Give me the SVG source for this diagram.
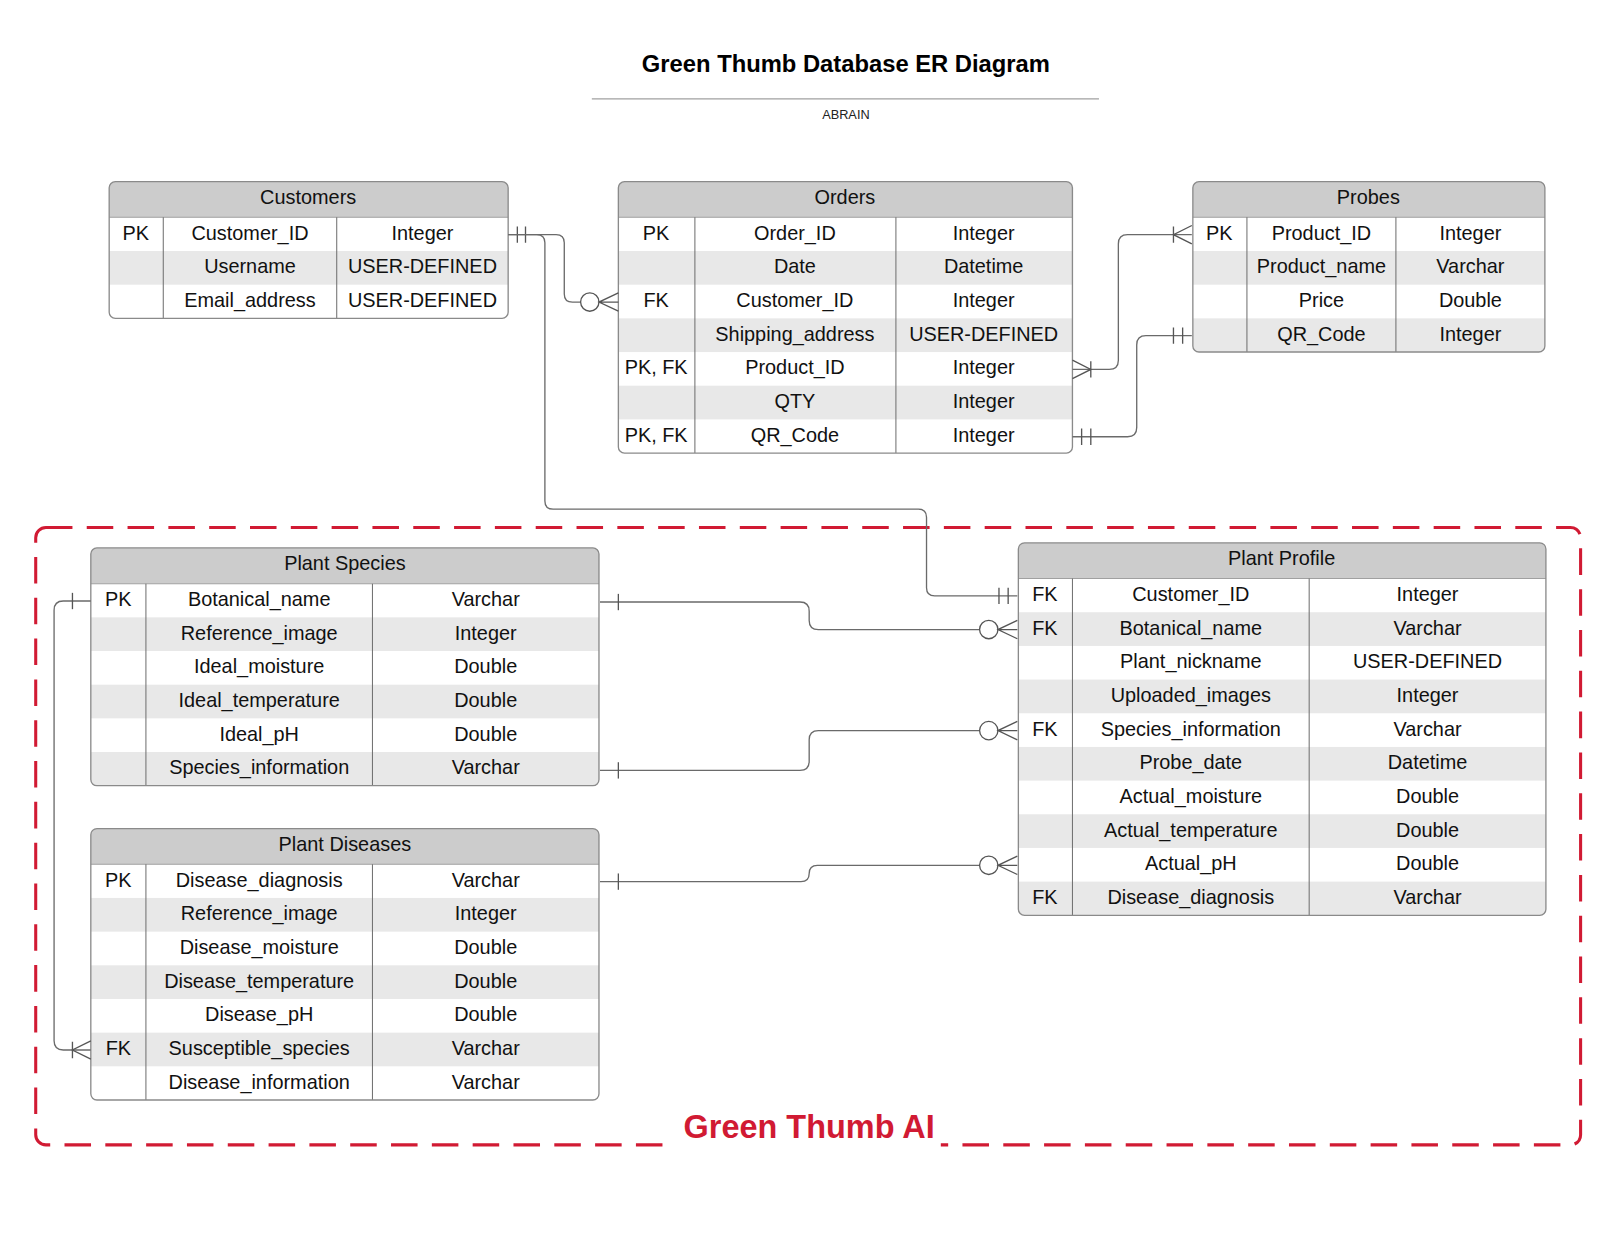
<svg xmlns="http://www.w3.org/2000/svg" width="1600" height="1237" viewBox="0 0 1600 1237">
<style>
.t{font-family:"Liberation Sans",Arial,sans-serif;font-size:19.5px;fill:#111;text-anchor:middle}
.title{font-family:"Liberation Sans",Arial,sans-serif;font-size:23.3px;font-weight:bold;fill:#000;text-anchor:middle}
.sub{font-family:"Liberation Sans",Arial,sans-serif;font-size:12.5px;fill:#222;text-anchor:middle}
.ai{font-family:"Liberation Sans",Arial,sans-serif;font-size:31.8px;font-weight:bold;fill:#d11a33;text-anchor:middle}
.hd{fill:#cccccc}
.gr{fill:#e8e8e8}
.box{fill:none;stroke:#8a8a8a;stroke-width:1.3}
.bg{fill:#fff}
.col{stroke:#6e6e6e;stroke-width:1}
.hl{stroke:#a0a0a0;stroke-width:1}
.cn{fill:none;stroke:#6a6a6a;stroke-width:1.3}
.mk{fill:none;stroke:#555;stroke-width:1.3}
.ci{fill:#fff;stroke:#555;stroke-width:1.3}
.dash{fill:none;stroke:#d11a33;stroke-width:3;stroke-dasharray:26 14}
</style>
<defs>
<clipPath id="cCust"><rect x="107" y="178" width="391" height="134" rx="6"/></clipPath>
<clipPath id="cOrd"><rect x="606" y="178" width="445" height="266" rx="6"/></clipPath>
<clipPath id="cProb"><rect x="1169" y="178" width="345" height="167" rx="6"/></clipPath>
<clipPath id="cSpec"><rect x="89" y="537" width="498" height="233" rx="6"/></clipPath>
<clipPath id="cDis"><rect x="89" y="812" width="498" height="266" rx="6"/></clipPath>
<clipPath id="cProf"><rect x="998" y="532" width="517" height="365" rx="6"/></clipPath>
</defs>
<rect width="1600" height="1237" fill="#fff"/>
<g transform="scale(1.0204)">
<g id="title">
<text class="title" x="829" y="71">Green Thumb Database ER Diagram</text>
<line x1="580" y1="97" x2="1077" y2="97" stroke="#a0a0a0" stroke-width="1.2"/>
<text class="sub" x="829" y="117">ABRAIN</text>
</g>

<g id="group-green-thumb-ai">
<rect class="dash" x="35" y="517" width="1514" height="605" rx="10"/>
<rect x="662" y="1108" width="260" height="24" fill="#fff"/>
<text class="ai" x="793" y="1115">Green Thumb AI</text>
</g>

<g id="customers">
<rect class="bg" x="107" y="178" width="391" height="134" rx="6"/>
<g clip-path="url(#cCust)">
<rect class="hd" x="107" y="178" width="391" height="35"/>
<rect class="gr" x="107" y="246" width="391" height="33"/>
</g>
<line class="hl" x1="107" y1="213" x2="498" y2="213"/>
<line class="col" x1="160" y1="213" x2="160" y2="312"/>
<line class="col" x1="330" y1="213" x2="330" y2="312"/>
<rect class="box" x="107" y="178" width="391" height="134" rx="6"/>
<text class="t" x="302" y="200">Customers</text>
<text class="t" x="133" y="235">PK</text><text class="t" x="245" y="235">Customer_ID</text><text class="t" x="414" y="235">Integer</text>
<text class="t" x="245" y="268">Username</text><text class="t" x="414" y="268">USER-DEFINED</text>
<text class="t" x="245" y="301">Email_address</text><text class="t" x="414" y="301">USER-DEFINED</text>
</g>

<g id="orders">
<rect class="bg" x="606" y="178" width="445" height="266" rx="6"/>
<g clip-path="url(#cOrd)">
<rect class="hd" x="606" y="178" width="445" height="35"/>
<rect class="gr" x="606" y="246" width="445" height="33"/>
<rect class="gr" x="606" y="312" width="445" height="33"/>
<rect class="gr" x="606" y="378" width="445" height="33"/>
</g>
<line class="hl" x1="606" y1="213" x2="1051" y2="213"/>
<line class="col" x1="681" y1="213" x2="681" y2="444"/>
<line class="col" x1="878" y1="213" x2="878" y2="444"/>
<rect class="box" x="606" y="178" width="445" height="266" rx="6"/>
<text class="t" x="828" y="200">Orders</text>
<text class="t" x="643" y="235">PK</text><text class="t" x="779" y="235">Order_ID</text><text class="t" x="964" y="235">Integer</text>
<text class="t" x="779" y="268">Date</text><text class="t" x="964" y="268">Datetime</text>
<text class="t" x="643" y="301">FK</text><text class="t" x="779" y="301">Customer_ID</text><text class="t" x="964" y="301">Integer</text>
<text class="t" x="779" y="334">Shipping_address</text><text class="t" x="964" y="334">USER-DEFINED</text>
<text class="t" x="643" y="367">PK, FK</text><text class="t" x="779" y="367">Product_ID</text><text class="t" x="964" y="367">Integer</text>
<text class="t" x="779" y="400">QTY</text><text class="t" x="964" y="400">Integer</text>
<text class="t" x="643" y="433">PK, FK</text><text class="t" x="779" y="433">QR_Code</text><text class="t" x="964" y="433">Integer</text>
</g>

<g id="probes">
<rect class="bg" x="1169" y="178" width="345" height="167" rx="6"/>
<g clip-path="url(#cProb)">
<rect class="hd" x="1169" y="178" width="345" height="35"/>
<rect class="gr" x="1169" y="246" width="345" height="33"/>
<rect class="gr" x="1169" y="312" width="345" height="33"/>
</g>
<line class="hl" x1="1169" y1="213" x2="1514" y2="213"/>
<line class="col" x1="1222" y1="213" x2="1222" y2="345"/>
<line class="col" x1="1368" y1="213" x2="1368" y2="345"/>
<rect class="box" x="1169" y="178" width="345" height="167" rx="6"/>
<text class="t" x="1341" y="200">Probes</text>
<text class="t" x="1195" y="235">PK</text><text class="t" x="1295" y="235">Product_ID</text><text class="t" x="1441" y="235">Integer</text>
<text class="t" x="1295" y="268">Product_name</text><text class="t" x="1441" y="268">Varchar</text>
<text class="t" x="1295" y="301">Price</text><text class="t" x="1441" y="301">Double</text>
<text class="t" x="1295" y="334">QR_Code</text><text class="t" x="1441" y="334">Integer</text>
</g>

<g id="plant-species">
<rect class="bg" x="89" y="537" width="498" height="233" rx="6"/>
<g clip-path="url(#cSpec)">
<rect class="hd" x="89" y="537" width="498" height="35"/>
<rect class="gr" x="89" y="605" width="498" height="33"/>
<rect class="gr" x="89" y="671" width="498" height="33"/>
<rect class="gr" x="89" y="737" width="498" height="33"/>
</g>
<line class="hl" x1="89" y1="572" x2="587" y2="572"/>
<line class="col" x1="143" y1="572" x2="143" y2="770"/>
<line class="col" x1="365" y1="572" x2="365" y2="770"/>
<rect class="box" x="89" y="537" width="498" height="233" rx="6"/>
<text class="t" x="338" y="559">Plant Species</text>
<text class="t" x="116" y="594">PK</text><text class="t" x="254" y="594">Botanical_name</text><text class="t" x="476" y="594">Varchar</text>
<text class="t" x="254" y="627">Reference_image</text><text class="t" x="476" y="627">Integer</text>
<text class="t" x="254" y="660">Ideal_moisture</text><text class="t" x="476" y="660">Double</text>
<text class="t" x="254" y="693">Ideal_temperature</text><text class="t" x="476" y="693">Double</text>
<text class="t" x="254" y="726">Ideal_pH</text><text class="t" x="476" y="726">Double</text>
<text class="t" x="254" y="759">Species_information</text><text class="t" x="476" y="759">Varchar</text>
</g>

<g id="plant-diseases">
<rect class="bg" x="89" y="812" width="498" height="266" rx="6"/>
<g clip-path="url(#cDis)">
<rect class="hd" x="89" y="812" width="498" height="35"/>
<rect class="gr" x="89" y="880" width="498" height="33"/>
<rect class="gr" x="89" y="946" width="498" height="33"/>
<rect class="gr" x="89" y="1012" width="498" height="33"/>
</g>
<line class="hl" x1="89" y1="847" x2="587" y2="847"/>
<line class="col" x1="143" y1="847" x2="143" y2="1078"/>
<line class="col" x1="365" y1="847" x2="365" y2="1078"/>
<rect class="box" x="89" y="812" width="498" height="266" rx="6"/>
<text class="t" x="338" y="834">Plant Diseases</text>
<text class="t" x="116" y="869">PK</text><text class="t" x="254" y="869">Disease_diagnosis</text><text class="t" x="476" y="869">Varchar</text>
<text class="t" x="254" y="902">Reference_image</text><text class="t" x="476" y="902">Integer</text>
<text class="t" x="254" y="935">Disease_moisture</text><text class="t" x="476" y="935">Double</text>
<text class="t" x="254" y="968">Disease_temperature</text><text class="t" x="476" y="968">Double</text>
<text class="t" x="254" y="1001">Disease_pH</text><text class="t" x="476" y="1001">Double</text>
<text class="t" x="116" y="1034">FK</text><text class="t" x="254" y="1034">Susceptible_species</text><text class="t" x="476" y="1034">Varchar</text>
<text class="t" x="254" y="1067">Disease_information</text><text class="t" x="476" y="1067">Varchar</text>
</g>

<g id="plant-profile">
<rect class="bg" x="998" y="532" width="517" height="365" rx="6"/>
<g clip-path="url(#cProf)">
<rect class="hd" x="998" y="532" width="517" height="35"/>
<rect class="gr" x="998" y="600" width="517" height="33"/>
<rect class="gr" x="998" y="666" width="517" height="33"/>
<rect class="gr" x="998" y="732" width="517" height="33"/>
<rect class="gr" x="998" y="798" width="517" height="33"/>
<rect class="gr" x="998" y="864" width="517" height="33"/>
</g>
<line class="hl" x1="998" y1="567" x2="1515" y2="567"/>
<line class="col" x1="1051" y1="567" x2="1051" y2="897"/>
<line class="col" x1="1283" y1="567" x2="1283" y2="897"/>
<rect class="box" x="998" y="532" width="517" height="365" rx="6"/>
<text class="t" x="1256" y="554">Plant Profile</text>
<text class="t" x="1024" y="589">FK</text><text class="t" x="1167" y="589">Customer_ID</text><text class="t" x="1399" y="589">Integer</text>
<text class="t" x="1024" y="622">FK</text><text class="t" x="1167" y="622">Botanical_name</text><text class="t" x="1399" y="622">Varchar</text>
<text class="t" x="1167" y="655">Plant_nickname</text><text class="t" x="1399" y="655">USER-DEFINED</text>
<text class="t" x="1167" y="688">Uploaded_images</text><text class="t" x="1399" y="688">Integer</text>
<text class="t" x="1024" y="721">FK</text><text class="t" x="1167" y="721">Species_information</text><text class="t" x="1399" y="721">Varchar</text>
<text class="t" x="1167" y="754">Probe_date</text><text class="t" x="1399" y="754">Datetime</text>
<text class="t" x="1167" y="787">Actual_moisture</text><text class="t" x="1399" y="787">Double</text>
<text class="t" x="1167" y="820">Actual_temperature</text><text class="t" x="1399" y="820">Double</text>
<text class="t" x="1167" y="853">Actual_pH</text><text class="t" x="1399" y="853">Double</text>
<text class="t" x="1024" y="886">FK</text><text class="t" x="1167" y="886">Disease_diagnosis</text><text class="t" x="1399" y="886">Varchar</text>
</g>

<g id="connectors">
<!-- Customers -> Orders -->
<path class="cn" d="M498,230 H545 Q553,230 553,238 V288 Q553,296 561,296 H569"/>
<path class="mk" d="M507,222 V238 M515,222 V238"/>
<circle class="ci" cx="578" cy="296" r="9"/>
<path class="mk" d="M606,287 L587,296 L606,305 M587,296 H606"/>
<!-- Customers -> Plant Profile -->
<path class="cn" d="M498,230 H526 Q534,230 534,238 V491 Q534,499 542,499 H900 Q908,499 908,507 V576 Q908,584 916,584 H997"/>
<path class="mk" d="M979,576 V592 M988,576 V592"/>
<!-- Orders Product_ID -> Probes Product_ID -->
<path class="cn" d="M1051,362 H1087 Q1096,362 1096,353 V239 Q1096,230 1105,230 H1168"/>
<path class="mk" d="M1051,353 L1069,362 L1051,371 M1069,354 V370"/>
<path class="mk" d="M1168,221 L1150,230 L1168,239 M1150,222 V238"/>
<!-- Orders QR_Code -> Probes QR_Code -->
<path class="cn" d="M1051,428 H1105 Q1114,428 1114,419 V338 Q1114,329 1123,329 H1168"/>
<path class="mk" d="M1060,420 V436 M1069,420 V436 M1150,321 V337 M1159,321 V337"/>
<!-- Species Botanical_name -> Profile Botanical_name -->
<path class="cn" d="M588,590 H784 Q793,590 793,599 V608 Q793,617 802,617 H960"/>
<path class="mk" d="M606,582 V598"/>
<circle class="ci" cx="969" cy="617" r="9"/>
<path class="mk" d="M997,608 L978,617 L997,626 M978,617 H997"/>
<!-- Species Species_information -> Profile Species_information -->
<path class="cn" d="M588,755 H784 Q793,755 793,746 V725 Q793,716 802,716 H960"/>
<path class="mk" d="M606,747 V763"/>
<circle class="ci" cx="969" cy="716" r="9"/>
<path class="mk" d="M997,707 L978,716 L997,725 M978,716 H997"/>
<!-- Diseases Disease_diagnosis -> Profile -->
<path class="cn" d="M588,864 H785 Q793,864 793,856 Q793,848 801,848 H960"/>
<path class="mk" d="M606,856 V872"/>
<circle class="ci" cx="969" cy="848" r="9"/>
<path class="mk" d="M997,839 L978,848 L997,857 M978,848 H997"/>
<!-- Species -> Diseases Susceptible_species -->
<path class="cn" d="M89,589 H62 Q53,589 53,598 V1020 Q53,1029 62,1029 H89"/>
<path class="mk" d="M71,581 V597"/>
<path class="mk" d="M89,1020 L71,1029 L89,1038 M71,1021 V1037"/>
</g>
</g>
</svg>
